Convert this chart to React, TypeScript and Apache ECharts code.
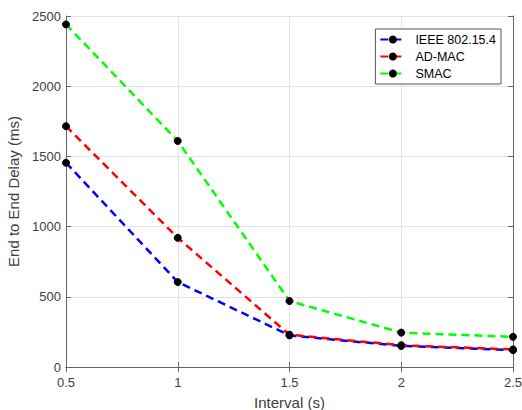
import React, { useEffect, useRef } from "react";
import * as echarts from "echarts";

const intervals = [0.5, 1, 1.5, 2, 2.5];
const ieee802154 = [1455, 605, 225, 150, 120];
const adMac = [1715, 920, 230, 155, 125];
const smac = [2440, 1610, 470, 245, 215];

const seriesNames = ["IEEE 802.15.4", "AD-MAC", "SMAC"];
const seriesColors = ["#0000ff", "#ff0000", "#00ff00"];
const seriesValues = [ieee802154, adMac, smac];

const FONT = "'Liberation Sans', Arial, sans-serif";
const AXIS_COLOR = "#666666";
const TEXT_COLOR = "#404040";

export default function App() {
  const ref = useRef<HTMLDivElement>(null);

  useEffect(() => {
    if (!ref.current) return;
    const chart = echarts.init(ref.current, null, { renderer: "svg" });

    const tickStyle = { show: true, inside: true, length: 5, lineStyle: { color: AXIS_COLOR, width: 1 } };

    chart.setOption({
      animation: false,
      backgroundColor: "#ffffff",
      grid: {
        left: 66,
        right: 9,
        top: 16,
        bottom: 43,
        containLabel: false,
        outerBoundsMode: "none",
      },
      legend: {
        data: seriesNames,
        orient: "vertical",
        right: 21,
        top: 29,
        itemWidth: 25,
        itemHeight: 10,
        itemGap: 4,
        padding: [4, 5, 4, 4],
        backgroundColor: "#ffffff",
        borderColor: "#555555",
        borderWidth: 1,
        borderRadius: 0,
        textStyle: { fontFamily: FONT, fontSize: 12.5, color: "#000000", padding: [0, 0, 0, 5] },
      },
      xAxis: [
        {
          type: "value",
          min: 0.5,
          max: 2.5,
          interval: 0.5,
          name: "Interval (s)",
          nameLocation: "middle",
          nameGap: 28,
          nameTextStyle: { fontFamily: FONT, fontSize: 15, color: TEXT_COLOR },
          axisLine: { show: true, lineStyle: { color: AXIS_COLOR, width: 1 } },
          axisTick: tickStyle,
          axisLabel: {
            fontFamily: FONT,
            fontSize: 13,
            color: TEXT_COLOR,
            margin: 9,
            formatter: (v: number) => String(v),
          },
          splitLine: { show: true, lineStyle: { color: "#e3e3e3", width: 1 } },
        },
        {
          type: "value",
          position: "top",
          min: 0.5,
          max: 2.5,
          interval: 0.5,
          axisLine: { show: true, lineStyle: { color: AXIS_COLOR, width: 1 } },
          axisTick: tickStyle,
          axisLabel: { show: false },
          splitLine: { show: false },
        },
      ],
      yAxis: [
        {
          type: "value",
          min: 0,
          max: 2500,
          interval: 500,
          name: "End to End Delay (ms)",
          nameLocation: "middle",
          nameGap: 41,
          nameTextStyle: { fontFamily: FONT, fontSize: 15, color: TEXT_COLOR },
          axisLine: { show: true, lineStyle: { color: AXIS_COLOR, width: 1 } },
          axisTick: tickStyle,
          axisLabel: {
            fontFamily: FONT,
            fontSize: 13,
            color: TEXT_COLOR,
            margin: 5,
            formatter: (v: number) => String(v),
          },
          splitLine: { show: true, lineStyle: { color: "#e3e3e3", width: 1 } },
        },
        {
          type: "value",
          position: "right",
          min: 0,
          max: 2500,
          interval: 500,
          axisLine: { show: true, lineStyle: { color: AXIS_COLOR, width: 1 } },
          axisTick: tickStyle,
          axisLabel: { show: false },
          splitLine: { show: false },
        },
      ],
      series: seriesNames.map((name, i) => ({
        name,
        type: "line",
        xAxisIndex: 0,
        yAxisIndex: 0,
        data: intervals.map((x, j) => [x, seriesValues[i][j]]),
        symbol: "circle",
        symbolSize: 7,
        itemStyle: { color: "#000000", borderColor: "#000000" },
        lineStyle: { color: seriesColors[i], width: 2.5, type: [8, 5] },
        z: 2 + i,
      })),
    });

    return () => chart.dispose();
  }, []);

  return (
    <div
      ref={ref}
      style={{ position: "fixed", left: 0, top: 0, width: 522, height: 410 }}
    />
  );
}
